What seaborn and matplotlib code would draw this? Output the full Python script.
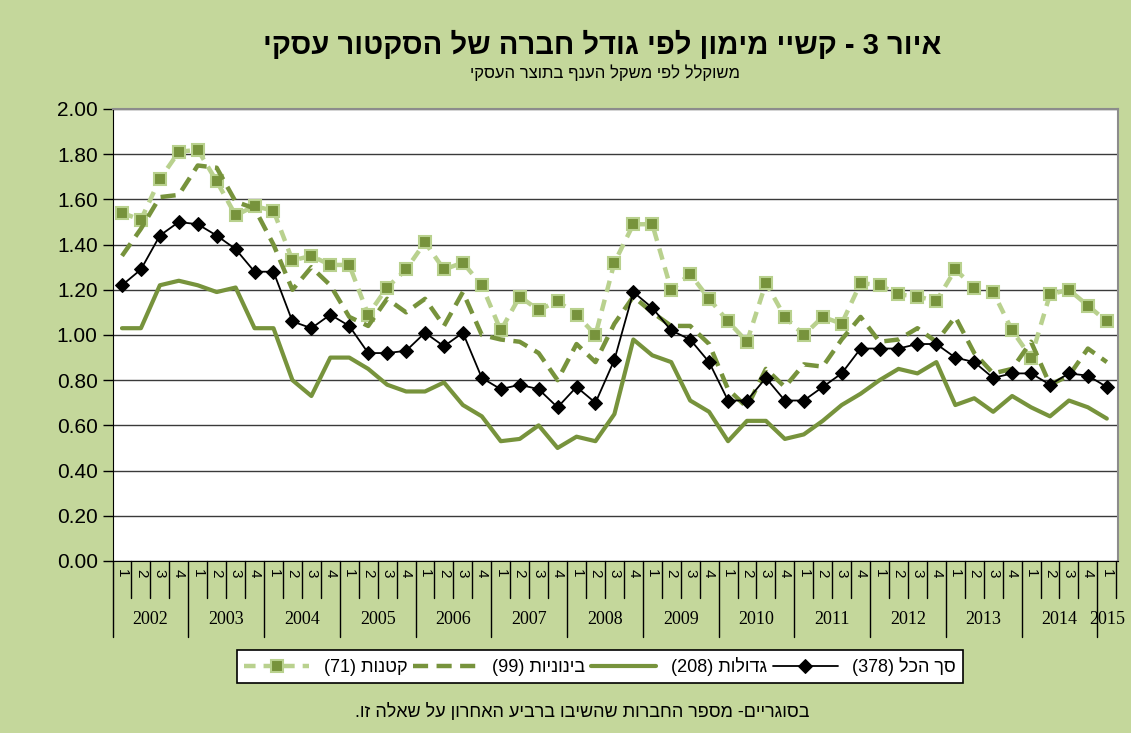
import re
import numpy as np
import pandas as pd
import matplotlib
matplotlib.use("Agg")
import matplotlib.pyplot as plt
import seaborn as sns

# quarterly data 2002Q1 .. 2015Q1
years = [str(y) for y in range(2002, 2016)]
quarters = ["1", "2", "3", "4"] * 13 + ["1"]

small_71 = [1.54, 1.51, 1.69, 1.81, 1.82, 1.68, 1.53, 1.57, 1.55, 1.33, 1.35, 1.31,
            1.31, 1.09, 1.21, 1.29, 1.41, 1.29, 1.32, 1.22, 1.02, 1.17, 1.11, 1.15,
            1.09, 1.00, 1.32, 1.49, 1.49, 1.20, 1.27, 1.16, 1.06, 0.97, 1.23, 1.08,
            1.00, 1.08, 1.05, 1.23, 1.22, 1.18, 1.17, 1.15, 1.29, 1.21, 1.19, 1.02,
            0.90, 1.18, 1.20, 1.13, 1.06]
medium_99 = [1.35, 1.47, 1.61, 1.62, 1.75, 1.74, 1.59, 1.56, 1.40, 1.20, 1.30, 1.22,
             1.08, 1.04, 1.16, 1.10, 1.16, 1.04, 1.19, 1.00, 0.98, 0.97, 0.92, 0.80,
             0.96, 0.88, 1.05, 1.17, 1.10, 1.04, 1.04, 0.96, 0.76, 0.68, 0.85, 0.77,
             0.87, 0.86, 0.98, 1.08, 0.97, 0.98, 1.03, 0.97, 1.08, 0.92, 0.83, 0.85,
             0.97, 0.78, 0.82, 0.94, 0.88]
large_208 = [1.03, 1.03, 1.22, 1.24, 1.22, 1.19, 1.21, 1.03, 1.03, 0.80, 0.73, 0.90,
             0.90, 0.85, 0.78, 0.75, 0.75, 0.79, 0.69, 0.64, 0.53, 0.54, 0.60, 0.50,
             0.55, 0.53, 0.65, 0.98, 0.91, 0.88, 0.71, 0.66, 0.53, 0.62, 0.62, 0.54,
             0.56, 0.62, 0.69, 0.74, 0.80, 0.85, 0.83, 0.88, 0.69, 0.72, 0.66, 0.73,
             0.68, 0.64, 0.71, 0.68, 0.63]
total_378 = [1.22, 1.29, 1.44, 1.50, 1.49, 1.44, 1.38, 1.28, 1.28, 1.06, 1.03, 1.09,
             1.04, 0.92, 0.92, 0.93, 1.01, 0.95, 1.01, 0.81, 0.76, 0.78, 0.76, 0.68,
             0.77, 0.70, 0.89, 1.19, 1.12, 1.02, 0.98, 0.88, 0.71, 0.71, 0.81, 0.71,
             0.71, 0.77, 0.83, 0.94, 0.94, 0.94, 0.96, 0.96, 0.90, 0.88, 0.81, 0.83,
             0.83, 0.78, 0.83, 0.82, 0.77]

labels = ["קטנות (71)", "בינוניות (99)", "גדולות (208)", "סך הכל (378)"]
title = "איור 3 - קשיי מימון לפי גודל חברה של הסקטור עסקי"
subtitle = "משוקלל לפי משקל הענף בתוצר העסקי"
note = "בסוגריים- מספר החברות שהשיבו ברביע האחרון על שאלה זו."


def rtl(s):
    # matplotlib has no bidi: build the visual order by hand
    r = s[::-1]
    r = re.sub(r"\d+", lambda m: m.group(0)[::-1], r)
    return r.translate(str.maketrans("()", ")("))


sns.set_style("white")
plt.rcParams["font.family"] = ["Liberation Sans", "DejaVu Sans"]
plt.rcParams["text.color"] = "black"
plt.rcParams["xtick.color"] = "black"
plt.rcParams["ytick.color"] = "black"

bg = "#C4D79B"
olive = "#77933C"
light = "#B9D18E"

fig = plt.figure(figsize=(11.31, 7.33), dpi=100, facecolor=bg)
ax = fig.add_axes([0.0999, 0.2347, 0.8886, 0.6166])
ax.set_facecolor("white")

x = np.arange(len(total_378))
df = pd.DataFrame({"q": x, "small": small_71, "medium": medium_99,
                   "large": large_208, "total": total_378})

sns.lineplot(data=df, x="q", y="small", ax=ax, color=light, lw=3.2,
             linestyle=(0, (2.6, 1.8)), marker="s", markersize=8.5,
             markerfacecolor=olive, markeredgecolor=light, markeredgewidth=1.5,
             label=rtl(labels[0]), zorder=3)
sns.lineplot(data=df, x="q", y="medium", ax=ax, color=olive, lw=3.2,
             linestyle=(0, (3.4, 1.9)), label=rtl(labels[1]), zorder=4)
sns.lineplot(data=df, x="q", y="large", ax=ax, color=olive, lw=3.0,
             label=rtl(labels[2]), zorder=5)
sns.lineplot(data=df, x="q", y="total", ax=ax, color="black", lw=1.3,
             marker="D", markersize=7.5, markerfacecolor="black",
             markeredgecolor="black", label=rtl(labels[3]), zorder=6)

ax.set_xlim(-0.475, 52.59)
ax.set_ylim(0, 2.0)
ax.set_yticks(np.arange(0, 2.01, 0.2))
ax.set_yticklabels([f"{v:.2f}" for v in np.arange(0, 2.01, 0.2)], fontsize=15)
ax.yaxis.grid(True, color="#3a3a3a", lw=1.0)
ax.set_axisbelow(True)
ax.tick_params(axis="y", length=7, width=1, color="black", left=True, pad=4)

ax.set_xticks(x)
ax.set_xticklabels(quarters, rotation=-90, fontsize=11)
ax.tick_params(axis="x", length=0, pad=6)
ax.set_xlabel("")
ax.set_ylabel("")

for s in ["top", "right"]:
    ax.spines[s].set_color("#8c8c8c")
    ax.spines[s].set_linewidth(1.5)
ax.spines["left"].set_color("black")
ax.spines["bottom"].set_color("black")

# quarter separators and year separators below the axis
trans = ax.get_xaxis_transform()
for k in range(len(x) + 1):
    pos = k - 0.5
    depth = -0.168 if k % 4 == 0 else -0.082
    ax.plot([pos, pos], [0, depth], color="black", lw=1.0, transform=trans,
            clip_on=False)
for i, yr in enumerate(years):
    cx = 4 * i + 1.5 if yr != "2015" else 52
    ax.text(cx, -0.13, yr, transform=trans, ha="center", va="center",
            fontsize=13, family=["Liberation Serif", "DejaVu Serif"])

handles, lbls = ax.get_legend_handles_labels()
ax.get_legend().remove()
leg = fig.legend(handles, lbls, ncol=4, loc="center",
                 bbox_to_anchor=(0.2095, 0.0614, 0.642, 0.0587), mode="expand",
                 frameon=True, fancybox=False, edgecolor="black", facecolor="white",
                 framealpha=1, fontsize=13, handlelength=3.6, columnspacing=1.5,
                 borderaxespad=0)
leg.get_frame().set_linewidth(1.2)

fig.text(0.532, 0.938, rtl(title), ha="center", va="center", fontsize=21,
         fontweight="bold")
fig.text(0.535, 0.901, rtl(subtitle), ha="center", va="center", fontsize=12)
fig.text(0.515, 0.028, rtl(note), ha="center", va="center", fontsize=13)

fig.savefig("out.png", dpi=100, facecolor=bg)
